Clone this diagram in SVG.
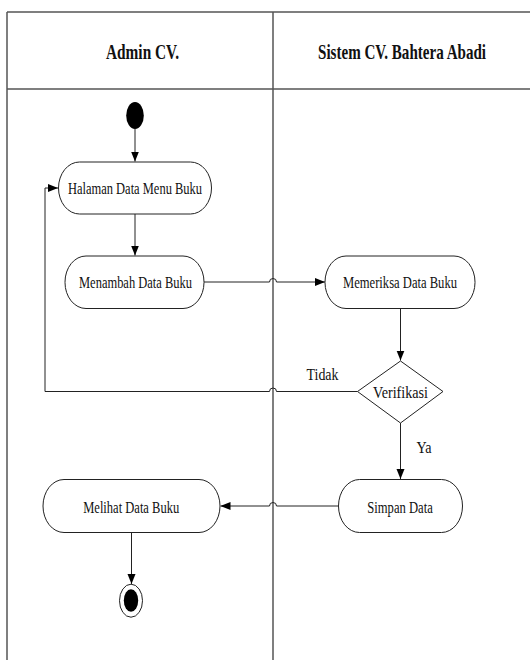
<svg xmlns="http://www.w3.org/2000/svg" width="530" height="660" viewBox="0 0 530 660">
<defs>
<marker id="arr" markerUnits="userSpaceOnUse" markerWidth="10" markerHeight="10" viewBox="0 0 10 10" refX="10" refY="5" orient="auto">
<path d="M0,1 L10,5 L0,9 Z" fill="#000"/>
</marker>
<style>
.frame{stroke:#555;stroke-width:1.5;fill:none}
.act{fill:#fff;stroke:#222;stroke-width:1}
.con{fill:none;stroke:#222;stroke-width:1}
.t{font-family:"Liberation Serif","Times New Roman",serif;font-size:17.5px;fill:#111;text-anchor:middle}
.h{font-family:"Liberation Serif","Times New Roman",serif;font-size:21px;font-weight:bold;fill:#111;text-anchor:middle}
</style>
</defs>
<rect width="530" height="660" fill="#fff"/>
<g id="swimlanes">
<path class="frame" d="M7,12 H530 M7,89 H530 M7,12 V660 M273,12 V660"/>
<text class="h" x="142.5" y="58.5" textLength="73" lengthAdjust="spacingAndGlyphs">Admin CV.</text>
<text class="h" x="402" y="58.5" textLength="168" lengthAdjust="spacingAndGlyphs">Sistem CV. Bahtera Abadi</text>
</g>
<g id="connectors">
<path class="con" d="M135,129 V161.5" marker-end="url(#arr)"/>
<path class="con" d="M135,214 V255.5" marker-end="url(#arr)"/>
<path class="con" d="M204,282 H269.5 a3.5,3.5 0 0 1 7,0 H325" marker-end="url(#arr)"/>
<path class="con" d="M400.5,308 V360.5" marker-end="url(#arr)"/>
<path class="con" d="M357.5,391.5 H276.5 a3.5,3.5 0 0 0 -7,0 H45 V188 H58" marker-end="url(#arr)"/>
<path class="con" d="M400.5,423 V479" marker-end="url(#arr)"/>
<path class="con" d="M338,506 H276.5 a3.5,3.5 0 0 0 -7,0 H220.5" marker-end="url(#arr)"/>
<path class="con" d="M131.5,532.5 V584" marker-end="url(#arr)"/>
<text class="t" x="322.5" y="380" textLength="32" lengthAdjust="spacingAndGlyphs">Tidak</text>
<text class="t" x="424" y="453" textLength="15" lengthAdjust="spacingAndGlyphs">Ya</text>
</g>
<g id="start">
<ellipse cx="135" cy="115.5" rx="8.8" ry="13.5" fill="#000"/>
</g>
<g id="halaman">
<rect class="act" x="58.5" y="162" width="153" height="52" rx="21" ry="26"/>
<text class="t" x="135" y="194.3" textLength="134" lengthAdjust="spacingAndGlyphs">Halaman Data Menu Buku</text>
</g>
<g id="menambah">
<rect class="act" x="65" y="256" width="139" height="52.5" rx="21" ry="26"/>
<text class="t" x="135.5" y="288.3" textLength="113" lengthAdjust="spacingAndGlyphs">Menambah Data Buku</text>
</g>
<g id="memeriksa">
<rect class="act" x="325" y="256" width="150" height="52.5" rx="21" ry="26"/>
<text class="t" x="400" y="288.3" textLength="114" lengthAdjust="spacingAndGlyphs">Memeriksa Data Buku</text>
</g>
<g id="verifikasi">
<path class="act" d="M400.5,361 L443,391.5 L400.5,423 L357.5,391.5 Z"/>
<text class="t" x="400.5" y="397.5" textLength="55" lengthAdjust="spacingAndGlyphs">Verifikasi</text>
</g>
<g id="simpan">
<rect class="act" x="338.5" y="479.5" width="124" height="53" rx="21" ry="26.5"/>
<text class="t" x="400" y="512.5" textLength="65.5" lengthAdjust="spacingAndGlyphs">Simpan Data</text>
</g>
<g id="melihat">
<rect class="act" x="43" y="479.5" width="177" height="53" rx="21" ry="26.5"/>
<text class="t" x="131.2" y="512.5" textLength="96" lengthAdjust="spacingAndGlyphs">Melihat Data Buku</text>
</g>
<g id="end">
<ellipse cx="131" cy="600.7" rx="11.5" ry="16.5" fill="#fff" stroke="#222" stroke-width="1"/>
<ellipse cx="131" cy="600.5" rx="7.2" ry="11.2" fill="#000"/>
</g>
</svg>
